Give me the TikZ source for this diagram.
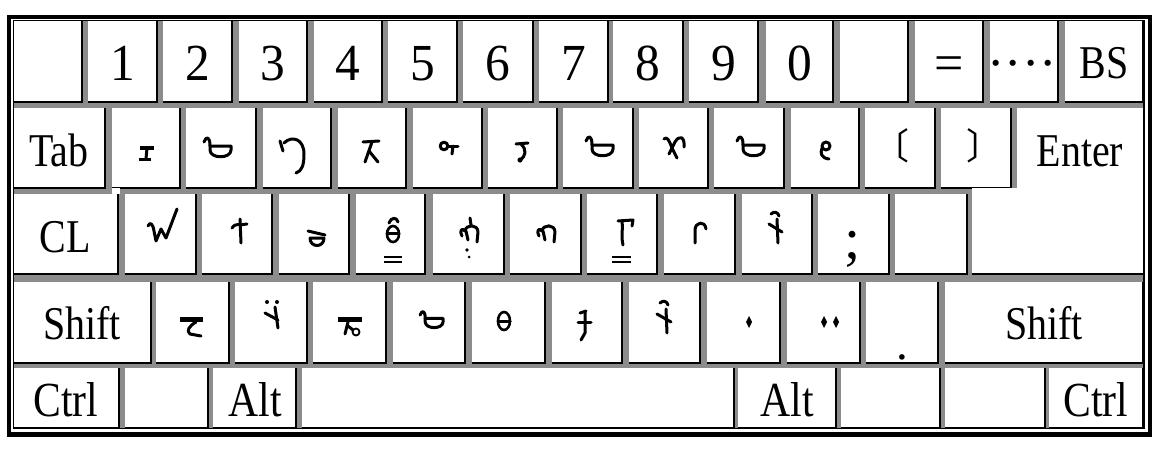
\documentclass[tikz,border=0pt]{standalone}
\usepackage{fontspec}
\setmainfont{Liberation Serif}
\newfontfamily\cjk{Noto Sans CJK SC}
\definecolor{gapgray}{HTML}{8C8C8C}
\newcommand\kf{\fontsize{47}{47}\selectfont}
\newcommand\df{\fontsize{52}{52}\selectfont}
\newcommand\sq[1]{\scalebox{0.85}[1]{#1}}
\newcommand\sqq[1]{\scalebox{0.85}[1]{\fontsize{49}{49}\selectfont #1}}
\newcommand\mykey[4]{\fill[white] (#1,#2) rectangle (#3,#4); \draw[keyline] (#3,#2) -- (#3,#4) -- (#1,#4);}
\tikzset{
  keyline/.style={line width=1.6pt},
  gl/.style={line width=3pt, line cap=round, line join=round},
  lab/.style={anchor=base, inner sep=0pt, font=\kf},
  dig/.style={anchor=base, inner sep=0pt, font=\df},
  hookbowl/.pic={
    \draw[gl] (-14,-7) .. controls (-12,-13) and (-8,-13) .. (-8,-3);
    \draw[gl] (-8,-3) -- (13,-3) -- (13,1) .. controls (13,10) and (-8,10) .. (-8,1) -- cycle;
  }
}
\begin{document}
\begin{tikzpicture}[x=1pt,y=-1pt]
\useasboundingbox (0,0) rectangle (1162,455);
\fill[white] (0,0) rectangle (1162,455);
% gap colour
\fill[gapgray] (13,21) rectangle (1144,429);
% row 1
\mykey{13}{21}{82}{102}
\mykey{88}{21}{157}{102}
\mykey{163}{21}{232}{102}
\mykey{239}{21}{307}{102}
\mykey{314}{21}{382}{102}
\mykey{388}{21}{457}{102}
\mykey{463}{21}{533}{102}
\mykey{539}{21}{608}{102}
\mykey{613}{21}{683}{102}
\mykey{689}{21}{758}{102}
\mykey{766}{21}{833}{102}
\mykey{840}{21}{908}{102}
\mykey{915}{21}{983}{102}
\mykey{990}{21}{1058}{102}
\mykey{1065}{21}{1143}{102}
% row 2
\mykey{13}{108}{105}{188}
\mykey{112}{108}{180}{188}
\mykey{186}{108}{256}{188}
\mykey{263}{108}{331}{188}
\mykey{338}{108}{406}{188}
\mykey{413}{108}{482}{188}
\mykey{488}{108}{557}{188}
\mykey{563}{108}{633}{188}
\mykey{639}{108}{708}{188}
\mykey{714}{108}{784}{188}
\mykey{791}{108}{859}{188}
\mykey{865}{108}{935}{188}
\mykey{941}{108}{1011}{188}
\fill[white] (112,188) rectangle (120,194);
% Enter (L shape)
\fill[white] (1017,108) -- (1143,108) -- (1143,274) -- (972,274) -- (972,188) -- (1017,188) -- cycle;
\draw[keyline] (972,274) -- (1143,274);
% row 3
\mykey{13}{194}{118}{274}
\mykey{125}{194}{196}{274}
\mykey{202}{194}{272}{274}
\mykey{279}{194}{349}{274}
\mykey{356}{194}{425}{274}
\mykey{433}{194}{504}{274}
\mykey{510}{194}{581}{274}
\mykey{587}{194}{657}{274}
\mykey{664}{194}{735}{274}
\mykey{742}{194}{812}{274}
\mykey{818}{194}{889}{274}
\mykey{895}{194}{967}{274}
% row 4
\mykey{13}{282}{151}{363}
\mykey{156}{282}{229}{363}
\mykey{235}{282}{307}{363}
\mykey{313}{282}{386}{363}
\mykey{393}{282}{465}{363}
\mykey{472}{282}{545}{363}
\mykey{552}{282}{622}{363}
\mykey{629}{282}{700}{363}
\mykey{707}{282}{780}{363}
\mykey{787}{282}{860}{363}
\mykey{866}{282}{938}{363}
\mykey{945}{282}{1143}{363}
% row 5
\mykey{13}{368}{119}{428}
\mykey{125}{368}{208}{428}
\mykey{213}{368}{296}{428}
\mykey{302}{368}{734}{428}
\mykey{738}{368}{836}{428}
\mykey{841}{368}{940}{428}
\mykey{945}{368}{1045}{428}
\mykey{1049}{368}{1143}{428}

% ---- row 1 labels
\node[dig] (d1) at (122.5,80) {\scalebox{0.95}[1]{1}};
\node[dig] (d2) at (197.5,80) {\scalebox{0.95}[1]{2}};
\node[dig] (d3) at (273,80) {\scalebox{0.95}[1]{3}};
\node[dig] (d4) at (348,80) {\scalebox{0.95}[1]{4}};
\node[dig] (d5) at (422.5,80) {\scalebox{0.95}[1]{5}};
\node[dig] (d6) at (498,80) {\scalebox{0.95}[1]{6}};
\node[dig] (d7) at (573.5,80) {\scalebox{0.95}[1]{7}};
\node[dig] (d8) at (648,80) {\scalebox{0.95}[1]{8}};
\node[dig] (d9) at (723.5,80) {\scalebox{0.95}[1]{9}};
\node[dig] (d0) at (799.5,80) {\scalebox{0.95}[1]{0}};
\node[dig] (deq) at (949,80) {=};
\node[dig] (ddots) at (1022,80) {····};
\node[lab] (bs) at (1104,78) {\sq{BS}};
% ---- row 2
\node[lab] (tab) at (59,166) {\sq{Tab}};
\node[lab] (enter) at (1080,166) {\sq{Enter}};
\draw[line width=3.5pt] (140,148) -- (154,148);
\draw[gl] (147,148) -- (146,159);
\draw[line width=3.5pt] (139,159.5) -- (151,159.5);
\pic at (218,149) {hookbowl};
\draw[gl] (280,141) -- (283,151);
\draw[gl] (284,143) .. controls (292,135) and (304,139) .. (304,154) .. controls (304,165) and (302,171) .. (296,173);
\draw[gl] (363,142) -- (379,141);
\draw[gl] (372,142) -- (365,162);
\draw[gl] (369,151) -- (378,162);
\draw[gl] (444,146) circle (3.8);
\draw[gl] (448,146) -- (458,146);
\draw[gl] (453,146) -- (452,154);
\draw[gl] (516,144) -- (528,143);
\draw[gl] (521,144) .. controls (527,150) and (526,156) .. (520,160);
\fill (520,160) circle (2.6);
\pic at (600,148) {hookbowl};
\draw[gl] (664,139) .. controls (667,136) and (669,140) .. (672,148) -- (677,158);
\draw[gl] (669,154) -- (675,142) .. controls (679,135) and (685,136) .. (684,147);
\pic at (751,148) {hookbowl};
\draw[gl] (826,146) circle (4);
\draw[gl] (822,148) .. controls (820,153) and (821,158) .. (829,159);
\node[inner sep=0pt] (lbr) at (891,146) {\cjk\fontsize{36}{36}\selectfont 〔};
\node[inner sep=0pt] (rbr) at (984,146) {\cjk\fontsize{36}{36}\selectfont 〕};
% ---- row 3
\node[lab] (cl) at (65.5,252) {\sq{CL}};
\draw[gl] (148,226) .. controls (150,221) and (153,224) .. (154,231) -- (156,241) -- (161,229) -- (166,238) -- (177,209);
\draw[gl] (240,219) -- (241,243);
\draw[gl] (232,228) .. controls (236,222) and (240,226) .. (247,224);
\draw[gl] (308,231) -- (325,235);
\draw[gl] (310,238) -- (324,238) .. controls (324,248) and (310,248) .. (310,238);
\draw[gl] (389,223) .. controls (391,217) and (397,217) .. (398,222);
\draw[line width=2.6pt] (393,234) ellipse (6 and 8);
\draw[gl] (387,233) -- (399,233);
\draw[line width=1.5pt] (384,257) -- (402,257) (384,262) -- (402,262);
\draw[gl] (470,218) -- (471,225);
\draw[gl] (462,236) .. controls (459,231) and (462,227) .. (465,231) .. controls (466,224) and (478,224) .. (478,232) -- (477,242);
\draw[gl] (466,231) -- (468,240);
\fill (467,250) circle (1.8) (469,257) circle (1.5);
\draw[gl] (539,236) .. controls (536,231) and (539,227) .. (542,231) .. controls (543,224) and (555,224) .. (555,232) -- (554,242);
\draw[gl] (543,231) -- (545,240);
\draw[gl] (618,221) -- (633,220) -- (632,226);
\draw[gl] (622,221) .. controls (623,230) and (621,238) .. (623,245);
\draw[line width=1.5pt] (612,257) -- (631,257) (612,262) -- (631,262);
\draw[gl] (695,243) -- (695,230) .. controls (695,222) and (705,220) .. (706,229);
\draw[gl] (771,214) .. controls (774,211) and (778,212) .. (779,216);
\draw[gl] (777,219) -- (778,243);
\draw[gl] (769,224) -- (782,232);
\node[anchor=base, inner sep=0pt, font=\fontsize{58}{58}\selectfont] (semi) at (853,258) {;};
% ---- row 4
\node[lab] (lshift) at (82,339) {\sq{Shift}};
\node[lab] (rshift) at (1044,339) {\sq{Shift}};
\draw[line width=5pt] (180,319) -- (203,319);
\draw[gl] (196,322) .. controls (189,326) and (186,331) .. (190,334) -- (201,336);
\fill (267,302) circle (2) (277,302) circle (2);
\draw[gl] (275,307) -- (278,328);
\draw[gl] (265,313) -- (278,320);
\draw[line width=5pt] (338,319) -- (362,319);
\draw[gl] (348,322) -- (345,334);
\draw[line width=1.8pt] (356,332) circle (3.5);
\draw[gl] (348,326) -- (353,330);
\pic[scale=0.85] at (432,321) {hookbowl};
\draw[line width=2.6pt] (504,321) ellipse (6 and 9);
\draw[gl] (498,321) -- (510,321);
\draw[gl] (580,313) -- (586,311);
\draw[gl] (585,312) -- (585,333) -- (581,340);
\draw[gl] (578,322) -- (591,322);
\draw[gl] (660,303) .. controls (663,300) and (667,301) .. (668,305);
\draw[gl] (666,309) -- (667,333);
\draw[gl] (657,314) -- (671,322);
\fill (749,316) -- (752,322) -- (749,328) -- (746,322) -- cycle;
\fill (824,316) -- (827,322) -- (824,328) -- (821,322) -- cycle;
\fill (836,316) -- (839,322) -- (836,328) -- (833,322) -- cycle;
\node[lab] (dot) at (902,359) {.};
% ---- row 5
\node[anchor=base, inner sep=0pt] (lctrl) at (66,416) {\sqq{Ctrl}};
\node[anchor=base, inner sep=0pt] (lalt) at (255,416) {\sqq{Alt}};
\node[anchor=base, inner sep=0pt] (ralt) at (787,416) {\sqq{Alt}};
\node[anchor=base, inner sep=0pt] (rctrl) at (1096,416) {\sqq{Ctrl}};
% frame
\draw[line width=1.5pt] (13.5,20.5) rectangle (1144,428.5);
\draw[line width=4pt] (9,16.5) -- (1149.5,16.5) -- (1149.5,434) -- (9,434) -- cycle;
\draw[line width=5pt] (7,434) -- (1152,434);
\end{tikzpicture}
\end{document}
